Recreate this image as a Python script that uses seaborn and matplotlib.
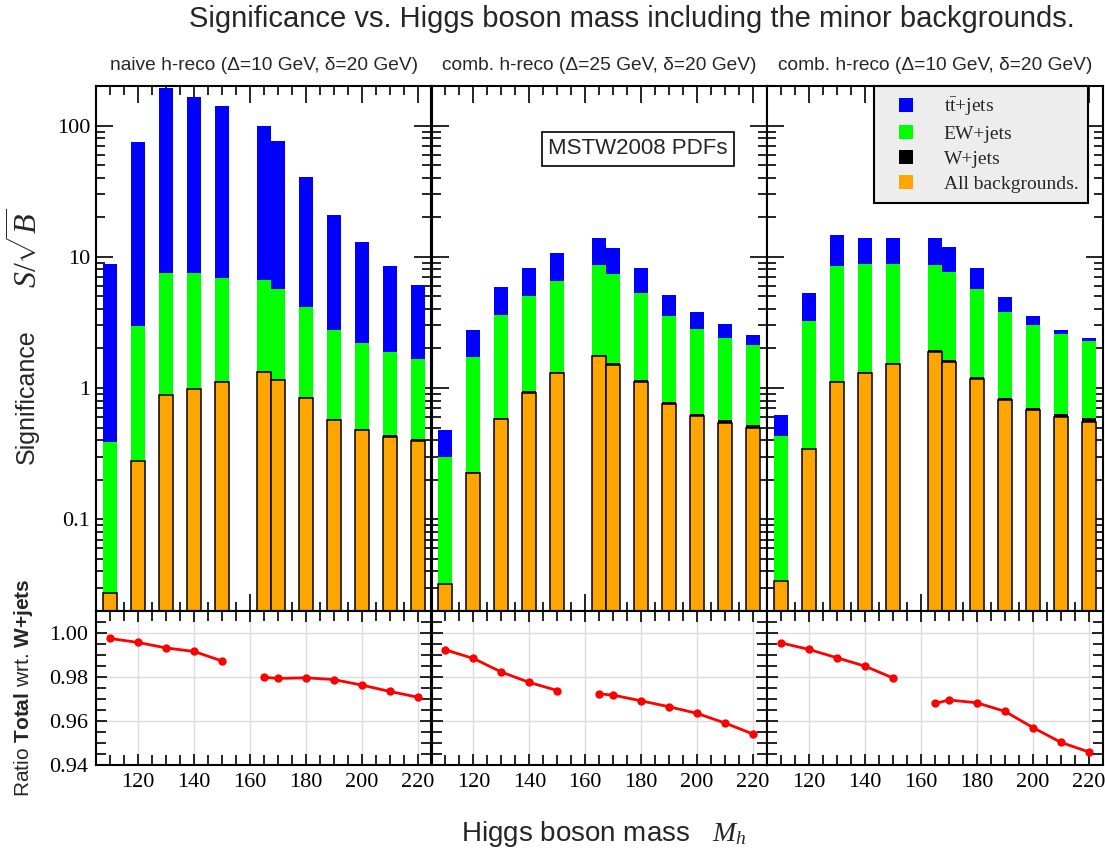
import numpy as np
import pandas as pd
import seaborn as sns
import matplotlib
matplotlib.use("Agg")
from matplotlib import pyplot as plt
from matplotlib.ticker import MultipleLocator, LogLocator, FuncFormatter, NullFormatter
from matplotlib.lines import Line2D

# Higgs masses (GeV) and the two mass windows
masses = [110, 120, 130, 140, 150, 165, 170, 180, 190, 200, 210, 220]
segment = [0, 0, 0, 0, 0, 1, 1, 1, 1, 1, 1, 1]

panel_titles = ["naive h-reco (\u0394=10 GeV, \u03b4=20 GeV)",
                "comb. h-reco (\u0394=25 GeV, \u03b4=20 GeV)",
                "comb. h-reco (\u0394=10 GeV, \u03b4=20 GeV)"]

# significance S/sqrt(B) with only one background, or all of them
sig_tt = [
    [8.81, 74.6, 192, 165, 141, 98.8, 75.6, 40.6, 20.9, 12.9, 8.51, 6.1],
    [0.48, 2.79, 5.84, 8.15, 10.6, 13.9, 11.7, 8.15, 5.13, 3.80, 3.05, 2.54],
    [0.62, 5.28, 14.6, 13.9, 13.9, 13.9, 11.9, 8.2, 4.95, 3.51, 2.77, 2.40],
]
sig_ew = [
    [0.386, 2.98, 7.53, 7.53, 6.93, 6.63, 5.66, 4.13, 2.78, 2.20, 1.88, 1.67],
    [0.30, 1.71, 3.59, 4.99, 6.53, 8.69, 7.38, 5.31, 3.53, 2.81, 2.41, 2.12],
    [0.428, 3.23, 8.53, 8.8, 8.8, 8.6, 7.6, 5.64, 3.80, 3.03, 2.58, 2.30],
]
sig_w = [
    [0.0275, 0.279, 0.886, 0.985, 1.134, 1.357, 1.181, 0.857, 0.582, 0.491, 0.438, 0.407],
    [0.0323, 0.228, 0.595, 0.943, 1.325, 1.80, 1.554, 1.156, 0.786, 0.638, 0.568, 0.524],
    [0.0341, 0.346, 1.133, 1.320, 1.552, 1.932, 1.630, 1.219, 0.840, 0.705, 0.631, 0.587],
]
sig_all = [
    [0.0274, 0.278, 0.88, 0.977, 1.12, 1.33, 1.157, 0.84, 0.57, 0.479, 0.426, 0.395],
    [0.0321, 0.225, 0.584, 0.922, 1.29, 1.75, 1.51, 1.12, 0.76, 0.615, 0.545, 0.50],
    [0.0339, 0.343, 1.12, 1.30, 1.52, 1.87, 1.58, 1.18, 0.81, 0.675, 0.60, 0.555],
]
# ratio total / W+jets
ratio = [
    [0.9976, 0.9958, 0.9933, 0.9917, 0.9874, 0.9800, 0.9794, 0.9797, 0.9789, 0.9764, 0.9735, 0.9709],
    [0.9924, 0.9885, 0.9823, 0.9776, 0.9739, 0.9724, 0.9718, 0.9692, 0.9665, 0.9635, 0.9591, 0.9541],
    [0.9956, 0.9926, 0.9888, 0.9850, 0.9796, 0.9680, 0.9696, 0.9683, 0.9644, 0.9570, 0.9503, 0.9459],
]

bar_layers = [("t$\\bar{\\mathrm{t}}$+jets", sig_tt, "#0000ff"),
              ("EW+jets", sig_ew, "#00ff00"),
              ("W+jets", sig_w, "#000000"),
              ("All backgrounds.", sig_all, "#ffa500")]

sns.set_style("ticks")
plt.rcParams['font.family'] = ['Liberation Sans', 'DejaVu Sans']
plt.rcParams['mathtext.fontset'] = 'custom'
plt.rcParams['mathtext.rm'] = 'Liberation Serif'
plt.rcParams['mathtext.it'] = 'Liberation Serif:italic'
plt.rcParams['mathtext.bf'] = 'Liberation Sans:bold'
plt.rcParams['mathtext.sf'] = 'Liberation Sans'
plt.rcParams['axes.edgecolor'] = 'black'
plt.rcParams['axes.linewidth'] = 1.5
plt.rcParams['xtick.color'] = 'black'
plt.rcParams['ytick.color'] = 'black'

fig = plt.figure(figsize=(11.05, 8.52), dpi=100)

W, H = 1105, 852
x_edges = [96, 431.5, 767, 1103]
top_t, top_b, rat_b = 86, 611, 765

def fmt_g(v, pos):
    return "%g" % v

for i in range(3):
    x0 = x_edges[i] / W
    w = (x_edges[i + 1] - x_edges[i]) / W
    ax = fig.add_axes([x0, 1 - top_b / H, w, (top_b - top_t) / H])
    rax = fig.add_axes([x0, 1 - rat_b / H, w, (rat_b - top_b) / H])

    # overlaid bars, largest first
    for name, vals, col in bar_layers:
        is_all = name.startswith("All")
        sns.barplot(x=masses, y=vals[i], native_scale=True, width=1.0,
                    color=col, saturation=1, errorbar=None, ax=ax,
                    edgecolor='black' if is_all else col,
                    linewidth=1.1 if is_all else 0)
    ax.set_yscale('log')
    ax.set_ylim(0.02, 200)
    ax.set_xlim(105, 225)
    ax.yaxis.set_major_locator(LogLocator(base=10))
    ax.yaxis.set_minor_locator(LogLocator(base=10, subs=np.arange(2, 10)))
    ax.yaxis.set_major_formatter(FuncFormatter(fmt_g))
    ax.yaxis.set_minor_formatter(NullFormatter())
    ax.xaxis.set_major_locator(MultipleLocator(20))
    ax.xaxis.set_minor_locator(MultipleLocator(5))
    ax.tick_params(which='both', direction='in', top=True, right=True,
                   labelbottom=False, labelleft=(i == 0), width=1.2,
                   labelsize=16, labelfontfamily='Liberation Serif', pad=4)
    ax.tick_params(which='major', length=12)
    ax.tick_params(which='minor', length=6.5)
    ax.set_xlabel('')
    ax.set_ylabel('')

    # ratio panel
    df = pd.DataFrame({'mass': masses, 'ratio': ratio[i], 'segment': segment})
    sns.lineplot(data=df, x='mass', y='ratio', units='segment', estimator=None,
                 color='red', marker='o', markersize=6, markeredgewidth=0,
                 linewidth=2, ax=rax, legend=False)
    rax.set_xlim(105, 225)
    rax.set_ylim(0.94, 1.0101)
    rax.xaxis.set_major_locator(MultipleLocator(20))
    rax.xaxis.set_minor_locator(MultipleLocator(5))
    rax.yaxis.set_major_locator(MultipleLocator(0.02))
    rax.yaxis.set_minor_locator(MultipleLocator(0.005))
    rax.yaxis.set_major_formatter(FuncFormatter(lambda v, p: "%.2f" % v))
    rax.grid(True, which='major', color='#dcdcdc', linewidth=1)
    rax.set_axisbelow(True)
    rax.tick_params(which='both', direction='in', top=True, right=True,
                    labelleft=(i == 0), width=1.2, labelsize=16,
                    labelfontfamily='Liberation Serif', pad=6)
    rax.tick_params(which='major', length=8)
    rax.tick_params(which='minor', length=7)
    rax.set_xlabel('')
    rax.set_ylabel('')

    fig.text((x_edges[i] + x_edges[i + 1]) / 2 / W, 1 - 66 / H, panel_titles[i],
             ha='center', va='center', fontsize=13.8)

    if i == 2:
        handles = [Line2D([], [], marker='s', linestyle='', color=col,
                          markersize=10, markeredgewidth=0)
                   for name, vals, col in bar_layers]
        leg = ax.legend(handles, [b[0] for b in bar_layers], loc='upper right',
                        bbox_to_anchor=(0.955, 1.0), borderaxespad=0,
                        frameon=True, fancybox=False, edgecolor='black',
                        facecolor='#ededed', framealpha=1,
                        prop={'family': 'Liberation Serif', 'size': 14},
                        handlelength=2.3, handletextpad=0.8,
                        labelspacing=0.38, borderpad=0.5)
        leg.get_frame().set_linewidth(1.5)

fig.text(632 / W, 1 - 19 / H,
         "Significance vs. Higgs boson mass including the minor backgrounds.",
         ha='center', va='center', fontsize=21)
fig.text(638 / W, 1 - 149 / H, "MSTW2008 PDFs", ha='center', va='center',
         fontsize=16, bbox=dict(boxstyle='square,pad=0.3', facecolor='white',
                                edgecolor='black', linewidth=1.2))
fig.text(27 / W, 1 - 397 / H, "Significance", rotation=90,
         ha='center', va='center', fontsize=18)
fig.text(27 / W, 1 - 248 / H, "$S/\\sqrt{B}$", rotation=90,
         ha='center', va='center', fontsize=23)
fig.text(24 / W, 1 - 688 / H, "Ratio $\\mathbf{Total}$ wrt. $\\mathbf{W{+}jets}$",
         rotation=90, ha='center', va='center', fontsize=15)
fig.text(604 / W, 1 - 834 / H, "Higgs boson mass   $M_h$",
         ha='center', va='center', fontsize=20)

fig.savefig("out.png", dpi=100)
